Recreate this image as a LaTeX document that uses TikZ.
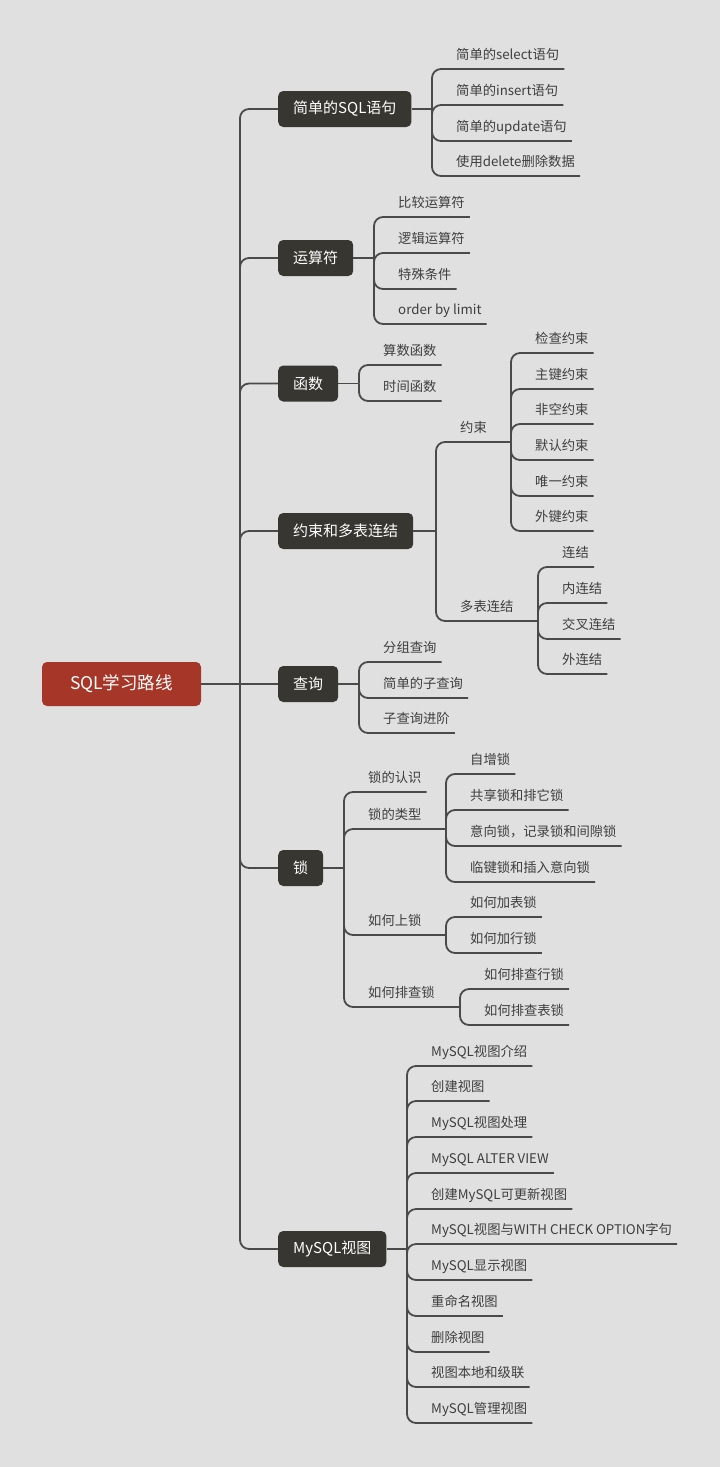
\documentclass[tikz,border=0pt]{standalone}
\usepackage{fontspec}
\setmainfont{Noto Sans CJK SC}
\definecolor{bgcolor}{HTML}{E0E0E0}
\definecolor{rootred}{HTML}{A53628}
\definecolor{topicfill}{HTML}{383630}
\definecolor{linegray}{HTML}{4A4A4A}
\definecolor{leafgray}{HTML}{3E3E3E}

\begin{document}
\begin{tikzpicture}[x=1pt,y=-1pt,
        root/.style={fill=rootred, text=white, rounded corners=5pt,
            minimum width=159pt, minimum height=44pt,
            font=\fontsize{17.5}{21}\selectfont},
        topic/.style={fill=topicfill, text=white, rounded corners=5pt,
            anchor=west, minimum height=36pt, inner xsep=15pt,
            font=\fontsize{15}{18}\selectfont},
        leaf/.style={anchor=south west, inner xsep=0pt, inner ysep=9.5pt,
            text depth=0pt, text=leafgray, font=\fontsize{13.3}{16}\selectfont},
        edge/.style={draw=linegray, line width=1.8pt, rounded corners=9pt}]
        \fill [bgcolor] (0,0) rectangle (720,1467);
        \useasboundingbox (0,0) rectangle (720,1467);
        %% Vertices
        \node [root] at (121.5,684) (root) {SQL学习路线};
        \node [topic] at (278,109) (sql) {简单的SQL语句};
        \node [topic] at (278,258) (ysf) {运算符};
        \node [topic] at (278,383.5) (hs) {函数};
        \node [topic] at (278,531) (yb) {约束和多表连结};
        \node [topic] at (278,684) (cx) {查询};
        \node [topic] at (278,868) (suo) {锁};
        \node [topic] at (278,1249) (view) {MySQL视图};
        %% hubs
        \coordinate (hub) at (240,684);
        \coordinate (sql-hub) at (432,109);
        \coordinate (ysf-hub) at (374,258);
        \coordinate (hs-hub) at (359,383.5);
        \coordinate (yb-hub) at (436,531);
        \coordinate (cx-hub) at (359,684);
        \coordinate (suo-hub) at (344,868);
        \coordinate (view-hub) at (407,1249);
        %% Leaves
        \node [leaf] at (456,69) (sql1) {简单的select语句};
        \node [leaf] at (456,105) (sql2) {简单的insert语句};
        \node [leaf] at (456,141) (sql3) {简单的update语句};
        \node [leaf] at (456,176) (sql4) {使用delete删除数据};
        \node [leaf] at (398,217) (ysf1) {比较运算符};
        \node [leaf] at (398,253) (ysf2) {逻辑运算符};
        \node [leaf] at (398,289) (ysf3) {特殊条件};
        \node [leaf] at (398,324) (ysf4) {order by limit};
        \node [leaf] at (383,365) (hs1) {算数函数};
        \node [leaf] at (383,401) (hs2) {时间函数};
        \node [leaf] at (460,442) (ys) {约束};
        \node [leaf] at (460,621) (db) {多表连结};
        \node [leaf] at (535,353) (ys1) {检查约束};
        \node [leaf] at (535,389) (ys2) {主键约束};
        \node [leaf] at (535,424) (ys3) {非空约束};
        \node [leaf] at (535,460) (ys4) {默认约束};
        \node [leaf] at (535,496) (ys5) {唯一约束};
        \node [leaf] at (535,531) (ys6) {外键约束};
        \node [leaf] at (562,567) (db1) {连结};
        \node [leaf] at (562,603) (db2) {内连结};
        \node [leaf] at (562,639) (db3) {交叉连结};
        \node [leaf] at (562,674) (db4) {外连结};
        \node [leaf] at (383,662) (cx1) {分组查询};
        \node [leaf] at (383,698) (cx2) {简单的子查询};
        \node [leaf] at (383,733) (cx3) {子查询进阶};
        \node [leaf] at (368,792) (rs) {锁的认识};
        \node [leaf] at (368,829) (lx) {锁的类型};
        \node [leaf] at (368,935) (sh) {如何上锁};
        \node [leaf] at (368,1007) (pc) {如何排查锁};
        \node [leaf] at (470,774) (lx1) {自增锁};
        \node [leaf] at (470,810) (lx2) {共享锁和排它锁};
        \node [leaf] at (470,846) (lx3) {意向锁，记录锁和间隙锁};
        \node [leaf] at (470,882) (lx4) {临键锁和插入意向锁};
        \node [leaf] at (470,917) (sh1) {如何加表锁};
        \node [leaf] at (470,953) (sh2) {如何加行锁};
        \node [leaf] at (484,989) (pc1) {如何排查行锁};
        \node [leaf] at (484,1025) (pc2) {如何排查表锁};
        \node [leaf] at (431,1066) (v1) {MySQL视图介绍};
        \node [leaf] at (431,1101) (v2) {创建视图};
        \node [leaf] at (431,1137) (v3) {MySQL视图处理};
        \node [leaf] at (431,1173) (v4) {MySQL ALTER VIEW};
        \node [leaf] at (431,1209) (v5) {创建MySQL可更新视图};
        \node [leaf] at (431,1244) (v6) {MySQL视图与WITH CHECK OPTION字句};
        \node [leaf] at (431,1280) (v7) {MySQL显示视图};
        \node [leaf] at (431,1316) (v8) {重命名视图};
        \node [leaf] at (431,1352) (v9) {删除视图};
        \node [leaf] at (431,1387) (v10) {视图本地和级联};
        \node [leaf] at (431,1423) (v11) {MySQL管理视图};
        \coordinate (ys-hub) at (511,442);
        \coordinate (db-hub) at (538,621);
        \coordinate (lx-hub) at (446,829);
        \coordinate (sh-hub) at (446,935);
        \coordinate (pc-hub) at (460,1007);
        %% Arcs
        \path [edge] (root.east) -- (cx.west);
        \foreach \t in {sql,ysf,hs,yb,suo,view}
            \path [edge] (\t.west) -| (hub);
        \foreach \t in {sql,ysf,hs,yb,cx,suo,view}
            \path [edge] (\t.east) -- (\t-hub);
        \foreach \t/\p in {sql1/sql,sql2/sql,sql3/sql,sql4/sql,
                ysf1/ysf,ysf2/ysf,ysf3/ysf,ysf4/ysf,hs1/hs,hs2/hs,
                ys1/ys,ys2/ys,ys3/ys,ys4/ys,ys5/ys,ys6/ys,
                db1/db,db2/db,db3/db,db4/db,cx1/cx,cx2/cx,cx3/cx,rs/suo,
                lx1/lx,lx2/lx,lx3/lx,lx4/lx,sh1/sh,sh2/sh,pc1/pc,pc2/pc,
                v1/view,v2/view,v3/view,v4/view,v5/view,v6/view,
                v7/view,v8/view,v9/view,v10/view,v11/view}
            \path [edge] ([xshift=5pt]\t.south east) -- ([xshift=-24pt]\t.south west) -- (\p-hub);
        \foreach \t/\p in {ys/yb,db/yb,lx/suo,sh/suo,pc/suo}
            \path [edge] (\t-hub) -- ([xshift=-24pt]\t.south west) -- (\p-hub);
    \end{tikzpicture}
\end{document}
